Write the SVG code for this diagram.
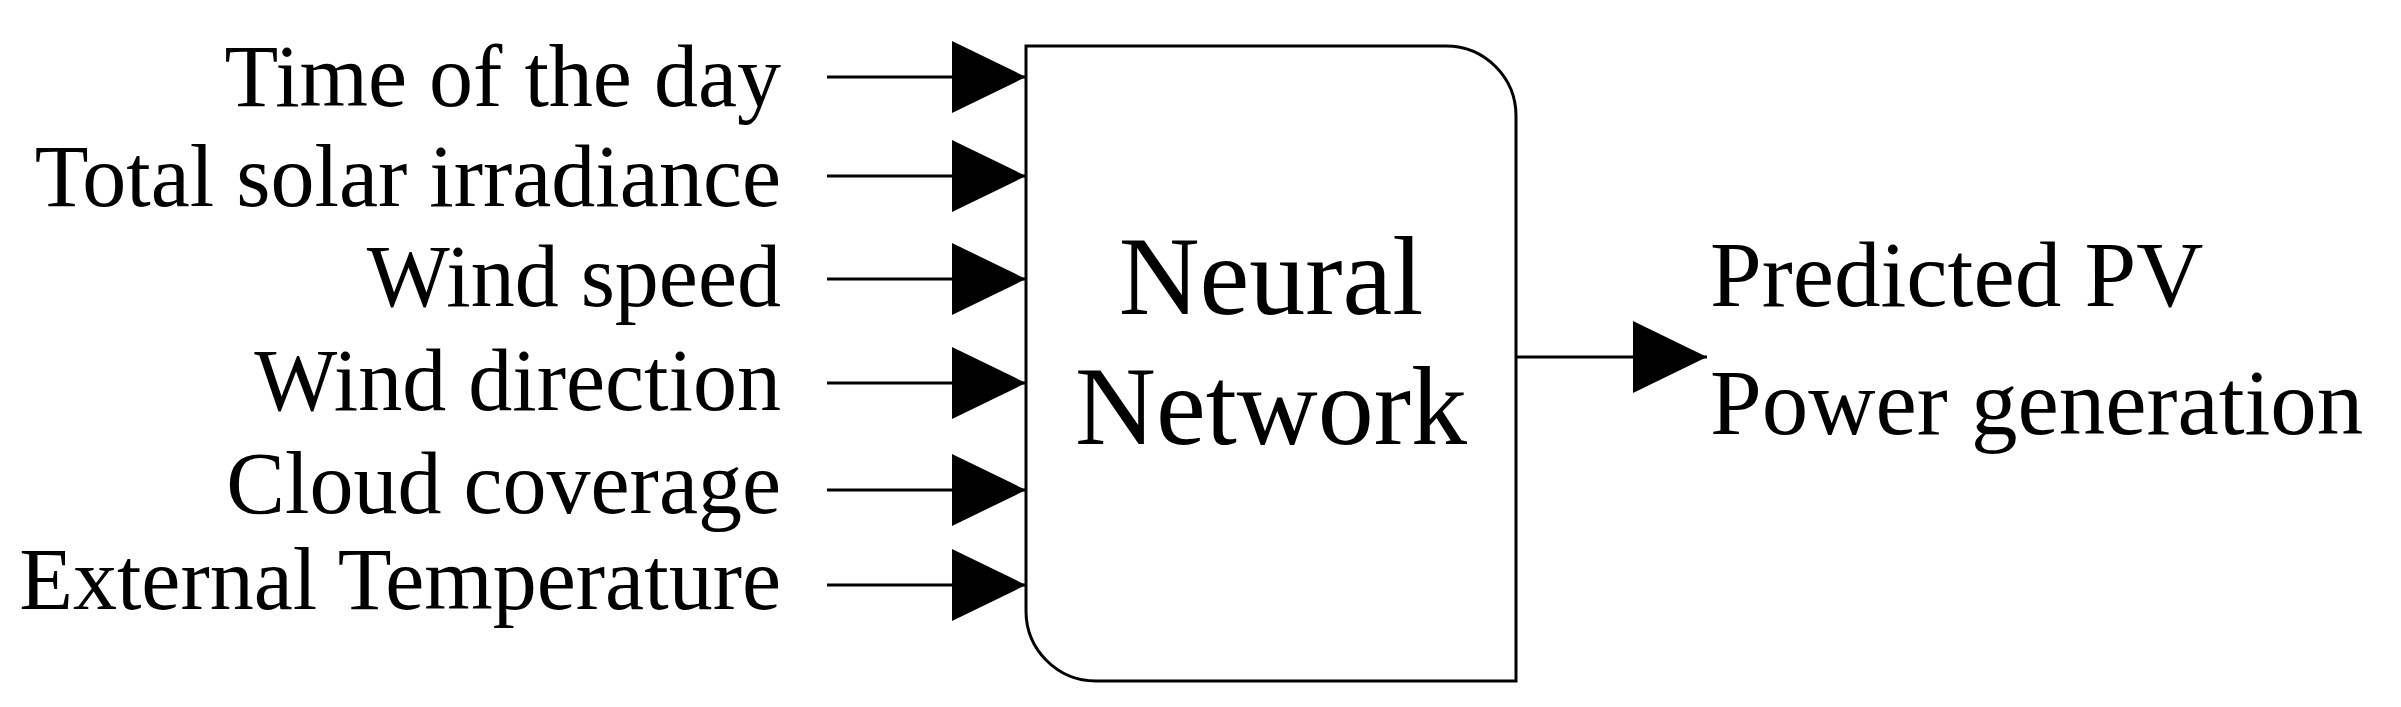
<svg xmlns="http://www.w3.org/2000/svg" width="2401" height="707" viewBox="0 0 2401 707">
<style>
text{font-family:"Liberation Serif","Times New Roman",serif;fill:#000}
.in{font-size:88px;text-anchor:end}
.c{stroke:#000;stroke-width:3;fill:none}
</style>
<defs><marker id="a" markerUnits="userSpaceOnUse" markerWidth="74" markerHeight="72" refX="74" refY="36" orient="auto"><path d="M0,0L74,36L0,72Z" fill="#000"/></marker></defs>
<rect width="2401" height="707" fill="#fff"/>
<g id="box"><path class="c" d="M1026,46H1446A70,70 0 0 1 1516,116V681H1096A70,70 0 0 1 1026,611Z"/>
<text x="1271" y="314" font-size="112" text-anchor="middle">Neural</text>
<text x="1271" y="444" font-size="112" text-anchor="middle">Network</text></g>
<g id="inputs">
<text class="in" x="781" y="106">Time of the day</text>
<text class="in" x="781" y="206">Total solar irradiance</text>
<text class="in" x="781" y="306">Wind speed</text>
<text class="in" x="781" y="410">Wind direction</text>
<text class="in" x="781" y="513">Cloud coverage</text>
<text class="in" x="781" y="609">External Temperature</text></g>
<g id="output"><text x="1710" y="306" font-size="93">Predicted PV</text>
<text x="1710" y="434" font-size="93">Power generation</text></g>
<g id="connectors" class="c">
<line x1="827" y1="77" x2="1026" y2="77" marker-end="url(#a)"/>
<line x1="827" y1="176" x2="1026" y2="176" marker-end="url(#a)"/>
<line x1="827" y1="279" x2="1026" y2="279" marker-end="url(#a)"/>
<line x1="827" y1="383" x2="1026" y2="383" marker-end="url(#a)"/>
<line x1="827" y1="490" x2="1026" y2="490" marker-end="url(#a)"/>
<line x1="827" y1="585" x2="1026" y2="585" marker-end="url(#a)"/>
<line x1="1516" y1="357" x2="1707" y2="357" marker-end="url(#a)"/>
</g>
</svg>
